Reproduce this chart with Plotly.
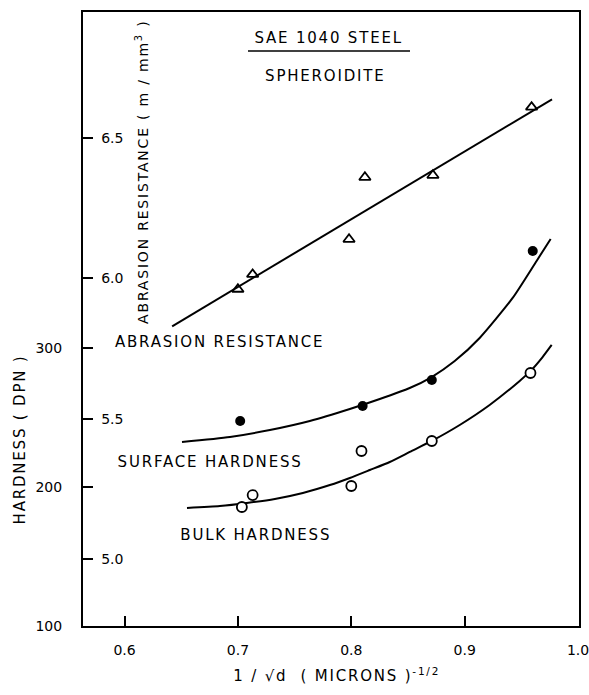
import plotly.graph_objects as go

# ---- data ----
abr_x = [0.700, 0.713, 0.798, 0.812, 0.872, 0.959]
abr_y = [5.961, 6.014, 6.139, 6.360, 6.367, 6.610]
abr_fit_x = [0.642, 0.977]
abr_fit_y = [5.829, 6.638]

surf_x = [0.702, 0.810, 0.871, 0.960]
surf_y = [247.5, 258.3, 277.0, 369.8]
surf_fit_x = [0.6507, 0.6930, 0.7282, 0.7634, 0.7987, 0.8251, 0.8515, 0.8709,
              0.8912, 0.9132, 0.9423, 0.9634, 0.9758]
surf_fit_y = [232.4, 236.0, 241.0, 247.5, 256.1, 263.3, 271.2, 279.1,
              290.6, 307.2, 336.0, 362.6, 378.4]

bulk_x = [0.7035, 0.713, 0.800, 0.809, 0.871, 0.958]
bulk_y = [185.6, 194.2, 200.7, 225.9, 233.1, 282.0]
bulk_fit_x = [0.6551, 0.6841, 0.7079, 0.7326, 0.7573, 0.7811, 0.7987, 0.8163,
              0.8339, 0.8515, 0.8709, 0.8956, 0.9220, 0.9485, 0.9581, 0.9687, 0.9767]
bulk_fit_y = [184.9, 186.3, 188.5, 191.4, 195.7, 201.4, 206.5, 212.2,
              218.0, 225.2, 233.1, 244.6, 259.0, 276.3, 283.5, 293.5, 302.2]

x_ticks = [0.6, 0.7, 0.8, 0.9, 1.0]
x_ticktext = ["0.6", "0.7", "0.8", "0.9", "1.0"]
hard_ticks = [100, 200, 300]
abr_ticks = [5.0, 5.5, 6.0, 6.5]
abr_ticktext = ["5.0", "5.5", "6.0", "6.5"]

FONT = "DejaVu Sans"
W, H = 589, 695
L, R, T, B = 83, 10, 12, 69


def px(xp):
    return (xp - L) / (W - L - R)


def py(yp):
    return (H - B - yp) / (H - B - T)


fig = go.Figure()
line = dict(color="black", width=2)
curve = dict(color="black", width=2, shape="spline", smoothing=0.6)

fig.add_trace(go.Scatter(x=abr_fit_x, y=abr_fit_y, mode="lines", line=line,
                         yaxis="y2", showlegend=False, hoverinfo="skip"))
fig.add_trace(go.Scatter(x=abr_x, y=abr_y, mode="markers", yaxis="y2",
                         marker=dict(symbol="triangle-up-open", size=10, color="black",
                                     line=dict(width=1.8, color="black")),
                         showlegend=False))
fig.add_trace(go.Scatter(x=surf_fit_x, y=surf_fit_y, mode="lines", line=curve,
                         showlegend=False, hoverinfo="skip"))
fig.add_trace(go.Scatter(x=surf_x, y=surf_y, mode="markers",
                         marker=dict(symbol="circle", size=10, color="black"),
                         showlegend=False))
fig.add_trace(go.Scatter(x=bulk_fit_x, y=bulk_fit_y, mode="lines", line=curve,
                         showlegend=False, hoverinfo="skip"))
fig.add_trace(go.Scatter(x=bulk_x, y=bulk_y, mode="markers",
                         marker=dict(symbol="circle", size=10, color="white",
                                     line=dict(width=1.8, color="black")),
                         showlegend=False))

tickfont = dict(family=FONT, size=14, color="black")

fig.update_layout(
    template="none",
    width=W, height=H,
    margin=dict(l=L, r=R, t=T, b=B, pad=0, autoexpand=False),
    paper_bgcolor="white", plot_bgcolor="white",
    font=dict(family=FONT, color="black"),
    showlegend=False,
    xaxis=dict(range=[0.5634, 1.0008], tickvals=x_ticks, ticktext=x_ticktext,
               ticks="inside", ticklen=10, tickwidth=1.5, tickcolor="black",
               showline=True, linewidth=2, linecolor="black", mirror=True,
               showgrid=False, zeroline=False, tickfont=tickfont,
               ticklabelstandoff=10, automargin=False, ticklabeloverflow="allow"),
    yaxis=dict(range=[100, 541.7], tickvals=hard_ticks,
               ticks="inside", ticklen=10, tickwidth=1.5, tickcolor="black",
               showline=True, linewidth=2, linecolor="black", mirror=True,
               showgrid=False, zeroline=False, tickfont=tickfont,
               ticklabelstandoff=16, automargin=False),
    yaxis2=dict(range=[4.761, 6.949], tickvals=abr_ticks, ticktext=abr_ticktext,
                overlaying="y", side="left", anchor="x",
                ticks="inside", ticklen=10, tickwidth=1.5, tickcolor="black",
                ticklabelposition="inside", ticklabelstandoff=8,
                showline=False, showgrid=False, zeroline=False, tickfont=tickfont,
                automargin=False),
)


def label(text, xp, yp, angle=0, size=15):
    fig.add_annotation(text=text, x=px(xp), y=py(yp), xref="paper", yref="paper",
                       showarrow=False, textangle=angle,
                       font=dict(family=FONT, size=size, color="black"),
                       xanchor="center", yanchor="middle")


label("SAE 1040 STEEL", 329, 38)
label("SPHEROIDITE", 325, 76)
label("ABRASION RESISTANCE", 219, 342)
label("SURFACE HARDNESS", 210, 462)
label("BULK HARDNESS", 256, 535)
label("ABRASION RESISTANCE ( m / mm<sup>3</sup> )", 142, 172, angle=-90, size=14)
label("HARDNESS ( DPN )", 20, 440, angle=-90)
label("1 / √d  ( MICRONS )<sup>-1/2</sup>", 337, 675)

fig.add_shape(type="line", xref="paper", yref="paper",
              x0=px(248), x1=px(410), y0=py(51), y1=py(51),
              line=dict(color="black", width=1.5))

post = ("document.body.style.margin='0';"
        "document.body.style.padding='0';"
        "var s=document.createElement('style');"
        "s.textContent='body{margin:0;padding:0}.annotation-text{letter-spacing:1.8px}';"
        "document.head.appendChild(s);")
fig.write_html("out.html", post_script=post, config={"displayModeBar": False})
